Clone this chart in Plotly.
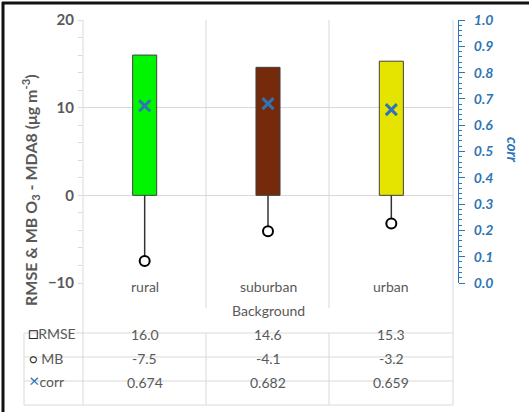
import plotly.graph_objects as go

categories = ["rural", "suburban", "urban"]
rmse = [16.0, 14.6, 15.3]
mb = [-7.5, -4.1, -3.2]
corr = [0.674, 0.682, 0.659]
bar_colors = ["#00F500", "#752A0B", "#E4E400"]
left_ticks = [-10, 0, 10, 20]
right_ticks = [0.0, 0.1, 0.2, 0.3, 0.4, 0.5, 0.6, 0.7, 0.8, 0.9, 1.0]

W, H = 529, 412
L, R, T, B = 83, 71, 20, 129
PW = W - L - R
PH = H - T - B


def px(x):
    return (x - L) / PW


def py(y):
    return (H - B - y) / PH


FONT = "Lato"
GRAY = "#595959"
BLUE = "#2E75B6"
xs = list(range(len(categories)))

fig = go.Figure()
fig.add_trace(go.Bar(x=xs, y=rmse, width=0.195, marker=dict(color=bar_colors, line=dict(color="#404040", width=1)),
                     showlegend=False, hoverinfo="skip"))
for i in xs:
    fig.add_trace(go.Scatter(x=[i, i], y=[0, mb[i]], mode="lines", line=dict(color="#333333", width=1.5),
                             showlegend=False, hoverinfo="skip"))
fig.add_trace(go.Scatter(x=xs, y=mb, mode="markers",
                         marker=dict(symbol="circle", size=10, color="white", line=dict(color="black", width=2)),
                         showlegend=False))
fig.add_trace(go.Scatter(x=xs, y=corr, yaxis="y2", mode="markers",
                         marker=dict(symbol="x-thin", size=11, line=dict(color=BLUE, width=3)),
                         showlegend=False))

fig.update_layout(
    width=W, height=H, margin=dict(l=L, r=R, t=T, b=B, autoexpand=False),
    paper_bgcolor="white", plot_bgcolor="white",
    font=dict(family=FONT, color=GRAY, size=14),
    xaxis=dict(domain=[0, (453 - L) / PW], range=[-0.5, 2.5], showticklabels=False, showgrid=False,
               zeroline=False, ticks=""),
    yaxis=dict(range=[-10, 20], tickvals=left_ticks, showgrid=True, gridcolor="#D9D9D9", gridwidth=1,
               zeroline=False, showline=False, ticks="", ticklabelstandoff=8,
               tickfont=dict(size=15, color=GRAY, family=FONT, weight="bold"),
               minor=dict(dtick=2, ticks="outside", ticklen=4, tickcolor="#D9D9D9", showgrid=False)),
    yaxis2=dict(range=[0, 1], overlaying="y", side="right", anchor="free", position=1.0,
                tickvals=right_ticks, tickformat=".1f", showgrid=False, zeroline=False,
                showline=True, linecolor=BLUE, linewidth=1, ticks="outside", ticklen=6, tickcolor=BLUE,
                tickfont=dict(size=14, color=BLUE, family=FONT, weight="bold", style="italic"),
                ticklabelstandoff=6,
                minor=dict(dtick=0.02, ticks="outside", ticklen=3, tickcolor=BLUE)),
)

shapes = []
line_c = "#D9D9D9"
for xv in [83, 453]:
    shapes.append(dict(type="line", xref="paper", yref="paper", x0=px(xv), x1=px(xv), y0=py(20), y1=py(405),
                       line=dict(color=line_c, width=1)))
for xv in [206, 329]:
    shapes.append(dict(type="line", xref="paper", yref="paper", x0=px(xv), x1=px(xv), y0=py(20), y1=py(308),
                       line=dict(color=line_c, width=1)))
    shapes.append(dict(type="line", xref="paper", yref="paper", x0=px(xv), x1=px(xv), y0=py(333), y1=py(405),
                       line=dict(color=line_c, width=1)))
shapes.append(dict(type="line", xref="paper", yref="paper", x0=px(24), x1=px(24), y0=py(333), y1=py(405),
                   line=dict(color=line_c, width=1)))
for yv in [333, 357, 381, 405]:
    shapes.append(dict(type="line", xref="paper", yref="paper", x0=px(24), x1=px(453), y0=py(yv), y1=py(yv),
                       line=dict(color=line_c, width=1)))
# frame (left and top)
shapes.append(dict(type="line", xref="paper", yref="paper", x0=px(3), x1=px(3), y0=py(2), y1=py(412),
                   line=dict(color="#111111", width=3)))
shapes.append(dict(type="line", xref="paper", yref="paper", x0=px(2), x1=px(529), y0=py(3), y1=py(3),
                   line=dict(color="#111111", width=3)))
fig.update_layout(shapes=shapes)

ann = []
for i, c in enumerate(categories):
    ann.append(dict(x=i, xref="x", y=py(297), yref="paper", text=c, showarrow=False,
                    font=dict(size=14, color=GRAY)))
    ann.append(dict(x=i, xref="x", y=py(345), yref="paper", text=f"{rmse[i]:.1f}", showarrow=False,
                    font=dict(size=14, color=GRAY)))
    ann.append(dict(x=i, xref="x", y=py(369), yref="paper", text=f"{mb[i]:.1f}", showarrow=False,
                    font=dict(size=14, color=GRAY)))
    ann.append(dict(x=i, xref="x", y=py(393), yref="paper", text=f"{corr[i]:.3f}", showarrow=False,
                    font=dict(size=14, color=GRAY)))
ann.append(dict(x=px(268), xref="paper", y=py(321), yref="paper", text="Background", showarrow=False,
                font=dict(size=14, color=GRAY)))
ann.append(dict(x=px(26), xref="paper", y=py(345), yref="paper", xanchor="left", showarrow=False,
                text="<span style='color:#222;font-size:17px'>□</span>RMSE", font=dict(size=14, color=GRAY)))
ann.append(dict(x=px(27), xref="paper", y=py(369), yref="paper", xanchor="left", showarrow=False,
                text="<span style='color:#222;font-size:13px'>○</span> MB", font=dict(size=14, color=GRAY)))
ann.append(dict(x=px(27), xref="paper", y=py(393), yref="paper", xanchor="left", showarrow=False,
                text=f"<span style='color:{BLUE};font-size:18px'>×</span>corr", font=dict(size=14, color=GRAY)))
ann.append(dict(x=px(30), xref="paper", y=py(190), yref="paper", textangle=-90, showarrow=False,
                xanchor="center", yanchor="middle",
                text="RMSE &amp; MB O<sub>3</sub> - MDA8 (μg m<sup>-3</sup>)",
                font=dict(size=16, color=GRAY, weight="bold")))
ann.append(dict(x=px(513), xref="paper", y=py(150), yref="paper", textangle=90, showarrow=False,
                xanchor="center", yanchor="middle",
                text="corr", font=dict(size=15, color=BLUE, weight="bold", style="italic")))
fig.update_layout(annotations=ann)

fig.write_html("out.html", config={"displayModeBar": False},
               post_script="document.body.style.margin='0';document.body.style.padding='0';")
